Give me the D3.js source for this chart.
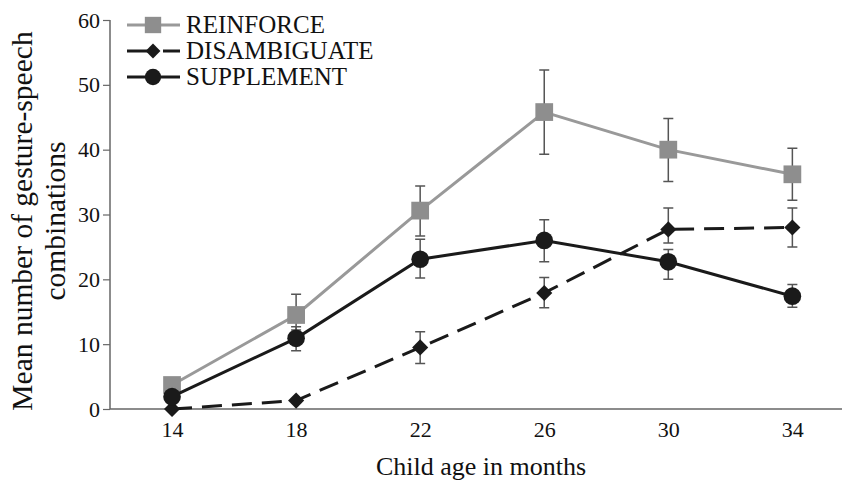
<!DOCTYPE html>
<html>
<head>
<meta charset="utf-8">
<script src="https://cdn.jsdelivr.net/npm/d3@7"></script>
<style>
  body { margin: 0; background: #fff; }
  svg { display: block; font-family: "Liberation Serif", "DejaVu Serif", serif; }
  svg text { font-family: "Liberation Serif", "DejaVu Serif", serif; }
</style>
</head>
<body>
<div id="chart"></div>
<script>
// ages on the x axis
var ages = [14, 18, 22, 26, 30, 34];

// means and error bar ends
var reinforce      = [3.7, 14.5, 30.6, 45.8, 40.0, 36.2];
var reinforceHi    = [3.7, 17.7, 34.4, 52.3, 44.8, 40.2];
var reinforceLo    = [3.7, 12.2, 26.7, 39.3, 35.1, 32.2];

var disambiguate   = [0.0, 1.3, 9.5, 17.9, 27.7, 28.0];
var disambiguateHi = [0.0, 1.3, 11.9, 20.3, 31.0, 31.0];
var disambiguateLo = [0.0, 1.3, 7.0, 15.6, 25.6, 25.0];

var supplement     = [1.9, 10.9, 23.1, 26.0, 22.7, 17.4];
var supplementHi   = [1.9, 12.7, 26.2, 29.2, 24.6, 19.2];
var supplementLo   = [1.9, 9.0, 20.2, 22.7, 20.0, 15.7];

var yTicks = [0, 10, 20, 30, 40, 50, 60];

var width = 842, height = 483;

var svg = d3.select("#chart").append("svg")
  .attr("width", width)
  .attr("height", height);

var x = d3.scaleLinear().domain([12, 35.6]).range([110, 842]);
var y = d3.scaleLinear().domain([0, 60]).range([409, 20]);

var axisColor = "#666";

// y axis
var yAxis = svg.append("g")
  .attr("transform", "translate(110,0)")
  .call(d3.axisLeft(y).tickValues(yTicks).tickSize(7).tickPadding(3))
  .attr("font-family", null).attr("font-size", null);
yAxis.select(".domain").attr("stroke", axisColor).attr("stroke-width", 1.5)
  .attr("d", "M0," + y(60) + "V" + y(0));
yAxis.selectAll(".tick line").attr("stroke", axisColor).attr("stroke-width", 1.2);
yAxis.selectAll(".tick text").attr("fill", "#111").style("font-size", "22px");

// x axis
var xAxis = svg.append("g")
  .attr("transform", "translate(0," + y(0) + ")")
  .call(d3.axisBottom(x).tickValues(ages).tickSize(0).tickPadding(12))
  .attr("font-family", null).attr("font-size", null);
xAxis.select(".domain").attr("stroke", axisColor).attr("stroke-width", 1.5)
  .attr("d", "M110,0H842");
xAxis.selectAll(".tick text").attr("fill", "#111").style("font-size", "22px");

// axis titles
svg.append("text")
  .attr("x", 481).attr("y", 475)
  .attr("text-anchor", "middle")
  .style("font-size", "26px").attr("fill", "#111")
  .text("Child age in months");

var yTitle = svg.append("text")
  .attr("transform", "translate(32,221)rotate(-90)")
  .attr("text-anchor", "middle")
  .style("font-size", "29.5px").attr("fill", "#111");
yTitle.append("tspan").attr("x", 0).attr("dy", 0).text("Mean number of gesture-speech");
yTitle.append("tspan").attr("x", 0).attr("dy", 33).text("combinations");

var series = [
  { name: "REINFORCE", vals: reinforce, hi: reinforceHi, lo: reinforceLo, color: "#999", mark: "#8e8e8e", dash: null, shape: d3.symbolSquare, size: 315, rot: 0 },
  { name: "DISAMBIGUATE", vals: disambiguate, hi: disambiguateHi, lo: disambiguateLo, color: "#1a1a1a", mark: "#1a1a1a", dash: "20,10", shape: d3.symbolSquare, size: 130, rot: 45 },
  { name: "SUPPLEMENT", vals: supplement, hi: supplementHi, lo: supplementLo, color: "#1a1a1a", mark: "#1a1a1a", dash: null, shape: d3.symbolCircle, size: 245, rot: 0 }
];

var line = d3.line()
  .x(function(d) { return x(d.age); })
  .y(function(d) { return y(d.v); });

series.forEach(function(s) {
  var pts = ages.map(function(a, i) { return { age: a, v: s.vals[i], hi: s.hi[i], lo: s.lo[i] }; });
  var g = svg.append("g");

  g.append("path")
    .datum(pts)
    .attr("d", line)
    .attr("fill", "none")
    .attr("stroke", s.color)
    .attr("stroke-width", 3)
    .attr("stroke-dasharray", s.dash);

  // error bars
  var eb = pts.filter(function(d) { return d.hi > d.lo; });
  g.selectAll(".bar").data(eb).enter().append("path")
    .attr("d", function(d) {
      var cx = x(d.age), t = y(d.hi), b = y(d.lo);
      return "M" + cx + "," + t + "V" + b +
        "M" + (cx - 5) + "," + t + "H" + (cx + 5) +
        "M" + (cx - 5) + "," + b + "H" + (cx + 5);
    })
    .attr("fill", "none")
    .attr("stroke", "#555")
    .attr("stroke-width", 1.5);

  g.selectAll(".pt").data(pts).enter().append("path")
    .attr("transform", function(d) { return "translate(" + x(d.age) + "," + y(d.v) + ")rotate(" + s.rot + ")"; })
    .attr("d", d3.symbol().type(s.shape).size(s.size))
    .attr("fill", s.mark);
});

// legend
var legend = svg.append("g");
series.forEach(function(s, i) {
  var ly = 25 + i * 26;
  legend.append("line")
    .attr("x1", 127).attr("x2", 180).attr("y1", ly).attr("y2", ly)
    .attr("stroke", s.color).attr("stroke-width", 3)
    .attr("stroke-dasharray", s.dash ? "28,8" : null);
  legend.append("path")
    .attr("transform", "translate(153," + ly + ")rotate(" + s.rot + ")")
    .attr("d", d3.symbol().type(s.shape).size(s.size * 0.85))
    .attr("fill", s.mark);
  legend.append("text")
    .attr("x", 186).attr("y", ly + 8)
    .style("font-size", "25px").attr("fill", "#111")
    .text(s.name);
});
</script>
</body>
</html>
